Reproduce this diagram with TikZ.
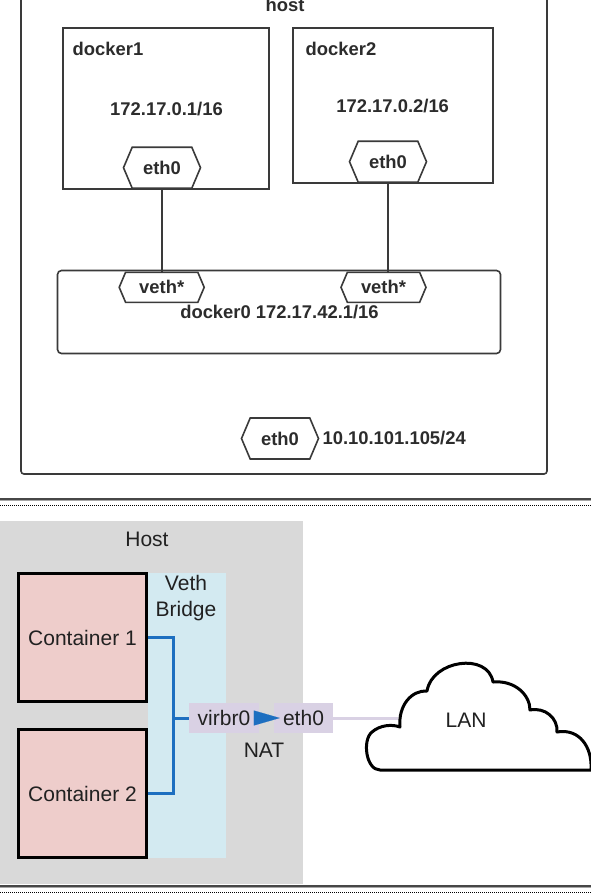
\documentclass[tikz,border=0pt]{standalone}
\usepackage{fontspec}
\setmainfont{Liberation Sans}
\usetikzlibrary{arrows.meta, positioning}
\usetikzlibrary{shapes.symbols}
\definecolor{linegray}{HTML}{3A3A3A}
\definecolor{textgray}{HTML}{2C2C2C}
\definecolor{hostgray}{HTML}{D9D9D9}
\definecolor{bridgeblue}{HTML}{D3EAF1}
\definecolor{containerpink}{HTML}{EECDCB}
\definecolor{portlilac}{HTML}{D9D1E4}
\definecolor{wireblue}{HTML}{1D6FC0}
\newcommand\dockerfont{\fontsize{18.4}{22}\selectfont\bfseries}
\newcommand\lanfont{\fontsize{21}{26}\selectfont}
\tikzset{
  porthex/.style={signal, signal to=west and east, signal pointer angle=134, draw=linegray,
    line width=1.6pt, fill=white, inner sep=0pt, text=textgray, font=\dockerfont},
  wire/.style={draw=linegray, line width=1.6pt},
  container/.style={draw=black, line width=3pt, fill=containerpink, minimum width=128pt, minimum height=128pt},
  port/.style={fill=portlilac, minimum height=30pt},
  bus/.style={draw=wireblue, line width=3pt},
  lanlink/.style={draw=portlilac, line width=3pt},
  natarrow/.style={draw=wireblue, fill=wireblue, line width=0.1pt, -{Triangle[length=26pt,width=15pt]}, shorten >=-6pt}
}

\begin{document}
\begin{tikzpicture}[every node/.style={align=center}, >=Stealth, x=1pt, y=-1pt]
        \useasboundingbox (0,0) rectangle (591,895);
        \clip (0,0) rectangle (591,895);
        \fill[white] (0,0) rectangle (591,895);
        % upper picture: docker0 bridge
        \begin{scope}[every node/.style={draw=linegray, line width=1.6pt, inner sep=0pt}]
            \node[rounded corners=3pt, minimum width=526pt, minimum height=486pt] (host) at (284,231) {};
            \node[minimum width=206pt, minimum height=161pt] (docker1) at (166,108.5) {};
            \node[minimum width=200pt, minimum height=155pt] (docker2) at (393,105.5) {};
            \node[rounded corners=4pt, minimum width=443pt, minimum height=83pt] (docker0) at (279,312) {};
        \end{scope}
        \begin{scope}[every node/.style={text=textgray, font=\dockerfont, inner sep=0pt}]
            \node[anchor=base] (hostname) at (285,11) {host};
            \node[anchor=base west] (d1name) at (72.5,55) {docker1};
            \node[anchor=base west] (d2name) at (305.5,55) {docker2};
            \node[anchor=base] (d1ip) at (166.5,115) {172.17.0.1/16};
            \node[anchor=base] (d2ip) at (392.7,112) {172.17.0.2/16};
            \node[anchor=base] (bridgename) at (279.5,318) {docker0 172.17.42.1/16};
        \end{scope}
        \node[porthex, minimum width=77pt, minimum height=41pt, anchor=south] (d1eth) at (162,189) {eth0};
        \node[porthex, minimum width=77pt, minimum height=41pt, anchor=south] (d2eth) at (388,183) {eth0};
        \node[porthex, minimum width=85pt, minimum height=30pt, anchor=north] (veth1) at (161.7,271.5) {veth*};
        \node[porthex, minimum width=85pt, minimum height=30pt, anchor=north] (veth2) at (383.5,271.5) {veth*};
        \node[porthex, minimum width=77pt, minimum height=41pt] (hosteth) at (280,438.5) {eth0};
        \node[right=3pt of hosteth, text=textgray, font=\dockerfont, inner sep=0pt] (hostip) {10.10.101.105/24};
        \draw[wire] (d1eth.south) -- (d1eth.south |- veth1.north);
        \draw[wire] (d2eth.south) -- (d2eth.south |- veth2.north);
        % page separators
        \draw[line width=2pt, draw=black!72] (0,499) -- (591,499);
        \draw[line width=1.2pt, draw=black!35] (0,500.8) -- (591,500.8);
        \draw[line width=1pt, dash pattern=on 1pt off 1pt] (0,505) -- (591,505);
        % lower picture: veth bridge and NAT
        \begin{scope}[every node/.style={align=center, text=black!87, font=\lanfont, inner sep=0pt}]
            \node[fill=hostgray, minimum width=303pt, minimum height=363pt, anchor=north west] (hostarea) at (0,521) {};
            \node[fill=bridgeblue, minimum width=78pt, minimum height=285pt, anchor=north west] (bridgearea) at (148,573) {};
            \node (hostlabel) at (147,539) {Host};
            \node (bridgelabel) at (186,598) {Veth\\Bridge};
            \node[container] (cont1) at (82.5,637.5) {Container 1};
            \node[container] (cont2) at (82.5,793.5) {Container 2};
            \node[port, minimum width=70pt] (virbr) at (224,718) {virbr0};
            \node[port, minimum width=59pt] (nateth) at (303.5,718) {eth0};
            \node (natlabel) at (264,750) {NAT};
        \end{scope}
        \coordinate (tap) at (173,718);
        \coordinate (lanport) at (398,718);
        \draw[bus] (cont1.east) -| (tap) |- (cont2.east);
        \draw[bus] (tap) -- (virbr.west);
        \draw[natarrow] (virbr.east) -- (nateth.west);
        \draw[lanlink] (nateth.east) -- (lanport);
        \draw[line width=3pt, fill=white, line join=round] (380,770)
            .. controls (366,770) and (362,740) .. (372,732)
            .. controls (380,725) and (392,724) .. (400,727)
            .. controls (398,705) and (412,690) .. (427,691)
            .. controls (432,660) and (488,652) .. (493,682)
            .. controls (515,680) and (530,695) .. (530,710)
            .. controls (545,707) and (558,718) .. (557,732)
            .. controls (580,728) and (592,748) .. (591,768)
            -- (591,770) -- cycle;
        \node[text=black!87, font=\lanfont, inner sep=0pt] (lanlabel) at (466,720) {LAN};
        \draw[line width=2pt, draw=black!72] (0,886) -- (591,886);
        \draw[line width=1.2pt, draw=black!35] (0,887.8) -- (591,887.8);
        \draw[line width=1pt, dash pattern=on 1pt off 1pt] (0,892.3) -- (591,892.3);
    \end{tikzpicture}
\end{document}
